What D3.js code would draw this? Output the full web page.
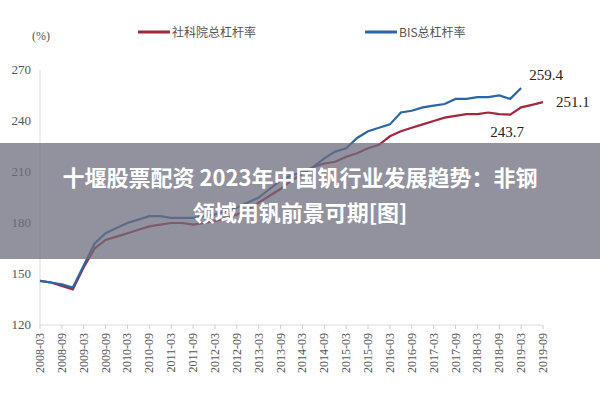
<!DOCTYPE html><html><head><meta charset="utf-8"><script src="https://cdn.jsdelivr.net/npm/d3@7"></script>
<style>body{margin:0;background:#fff}</style></head><body><svg id="c" width="600" height="400"></svg><script>
const tickLabels=["2008-03","2008-09","2009-03","2009-09","2010-03","2010-09","2011-03","2011-09","2012-03","2012-09","2013-03","2013-09","2014-03","2014-09","2015-03","2015-09","2016-03","2016-09","2017-03","2017-09","2018-03","2018-09","2019-03","2019-09"];
const yTicks=[120,150,180,210,240,270];
const bisValues=[146,145,144,142,155,168,174,177,180,182,184,184,183,183,183,184,185,187,189,192,195,200,205,208,210,213,218,222,224,230,234,236,238,245,246,248,249,250,253,253,254,254,255,253,259.4];
const caassValues=[146,145,143,141,154,165,170,172,174,176,178,179,180,180,179,180,181,183,185,188,192,196,200,205,209,213,215,216,219,221,224,226,231,234,236,238,240,242,243,244,244,245,244,243.7,248,249.5,251.1];
const legendNames=["社科院总杠杆率","BIS总杠杆率"];
const colors=["#a3273b","#2a66a6"];
const svg=d3.select("#c");
const x=d3.scaleLinear().domain([0,46]).range([40,543]);
const y=d3.scaleLinear().domain([120,270]).range([325,70]);
const g=svg.append("g");
g.append("line").attr("x1",40).attr("x2",40).attr("y1",y(270)).attr("y2",y(120)).attr("stroke","#ddd");
g.append("line").attr("x1",40).attr("x2",543).attr("y1",y(120)).attr("y2",y(120)).attr("stroke","#ddd");
yTicks.forEach(t=>g.append("text").attr("x",31).attr("y",y(t)+4).attr("text-anchor","end").attr("font-family","Liberation Serif").attr("font-size",13).attr("fill","#555").text(t));
tickLabels.forEach((l,i)=>{const xx=x(i*2);
 g.append("line").attr("x1",xx).attr("x2",xx).attr("y1",y(120)).attr("y2",y(120)+4).attr("stroke","#ccc");
 g.append("text").attr("transform",`translate(${xx+4},${y(120)+8}) rotate(-90)`).attr("text-anchor","end").attr("font-family","Liberation Serif").attr("font-size",12).attr("fill","#555").text(l);});
svg.append("text").attr("x",32).attr("y",40).attr("font-family","Liberation Serif").attr("font-size",12).attr("fill","#555").text("(%)");
const line=d3.line().x((d,i)=>x(i)).y(d=>y(d));
svg.append("path").datum(caassValues).attr("d",line).attr("fill","none").attr("stroke",colors[0]).attr("stroke-width",2.2);
svg.append("path").datum(bisValues).attr("d",line).attr("fill","none").attr("stroke",colors[1]).attr("stroke-width",2.2);
const lab=(t,xx,yy)=>svg.append("text").attr("x",xx).attr("y",yy).attr("font-family","Liberation Serif").attr("font-size",15).attr("fill","#222").text(t);
lab("259.4",x(44)+8,y(259.4)-8);
lab("251.1",x(46)+13,y(251.1)+5);
lab("243.7",x(43)-20,y(243.7)+22);
[0,1].forEach(k=>{const lx=[138,365][k];
 svg.append("line").attr("x1",lx).attr("x2",lx+32).attr("y1",32).attr("y2",32).attr("stroke",colors[k]).attr("stroke-width",3);
 svg.append("text").attr("x",lx+34).attr("y",37).attr("font-family","Noto Sans CJK SC").attr("font-size",12).attr("fill","#555").text(legendNames[k]);});
svg.append("rect").attr("x",0).attr("y",143).attr("width",600).attr("height",116).attr("fill","rgba(110,110,125,0.75)");
const tt=svg.append("text").attr("text-anchor","middle").attr("font-family","Noto Sans CJK SC").attr("font-weight","bold").attr("font-size",22).attr("fill","#fff");
tt.append("tspan").attr("x",300).attr("y",186).text("十堰股票配资 2023年中国钒行业发展趋势：非钢");
tt.append("tspan").attr("x",300).attr("y",221).text("领域用钒前景可期[图]");
</script></body></html>
